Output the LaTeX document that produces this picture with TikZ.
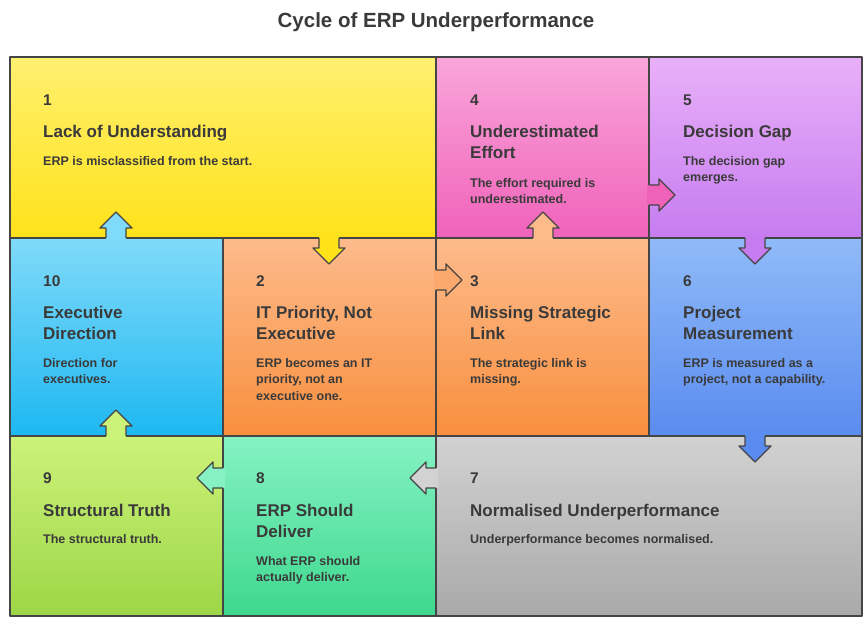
\documentclass[tikz,border=0pt]{standalone}
\usepackage{fontspec}
\setmainfont{Liberation Sans}
\begin{document}
\definecolor{ink}{HTML}{3A3A3A}
\definecolor{edge}{HTML}{454545}
\definecolor{yT}{HTML}{FFF070}\definecolor{yB}{HTML}{FFE21A}
\definecolor{pT}{HTML}{F9A6DA}\definecolor{pB}{HTML}{F062BA}
\definecolor{vT}{HTML}{E9B0F9}\definecolor{vB}{HTML}{C67CF0}
\definecolor{cT}{HTML}{80DAF9}\definecolor{cB}{HTML}{1EB8F2}
\definecolor{oT}{HTML}{FDBB8C}\definecolor{oB}{HTML}{F88F3E}
\definecolor{bT}{HTML}{90BAF8}\definecolor{bB}{HTML}{5A8CF0}
\definecolor{lT}{HTML}{CDF27A}\definecolor{lB}{HTML}{9CD646}
\definecolor{mT}{HTML}{86F2C4}\definecolor{mB}{HTML}{3ED88E}
\definecolor{gT}{HTML}{D2D2D2}\definecolor{gB}{HTML}{A9A9A9}
\newcommand\arr[5]{%
 \def\ax{#1}\def\ay{#2}\def\ux{#3}\def\uy{#4}%
 \fill[#5] \P{-2}{-10} -- \P{10}{-10} -- \P{10}{-16} -- \P{26}{0} -- \P{10}{16} -- \P{10}{10} -- \P{-2}{10} -- cycle;
 \draw[cell] \P{0}{-10} -- \P{10}{-10} -- \P{10}{-16} -- \P{26}{0} -- \P{10}{16} -- \P{10}{10} -- \P{0}{10};}
\def\P#1#2{({\ax+(#1)*(\ux)-(#2)*(\uy)},{\ay+(#1)*(\uy)+(#2)*(\ux)})}
\begin{tikzpicture}[x=1pt,y=-1pt,
 cell/.style={draw=edge,line width=1.4pt,line join=round},
 num/.style={anchor=base west,inner sep=0pt,text=ink,font=\bfseries\fontsize{15.5}{18}\selectfont},
 ttl/.style={anchor=base west,inner sep=0pt,text=ink,font=\bfseries\fontsize{17}{21}\selectfont},
 dsc/.style={anchor=base west,inner sep=0pt,text=ink,font=\bfseries\fontsize{12.5}{16}\selectfont}]
\useasboundingbox (0,0) rectangle (868,620);
\node[text=ink,font=\bfseries\fontsize{20.5}{24}\selectfont] (title) at (436,22) {Cycle of ERP Underperformance};
% cells
\shade[top color=yT,bottom color=yB] (10,57) rectangle (436,238);
\shade[top color=pT,bottom color=pB] (436,57) rectangle (649,238);
\shade[top color=vT,bottom color=vB] (649,57) rectangle (862,238);
\shade[top color=cT,bottom color=cB] (10,238) rectangle (223,436);
\shade[top color=oT,bottom color=oB] (223,238) rectangle (436,436);
\shade[top color=oT,bottom color=oB] (436,238) rectangle (649,436);
\shade[top color=bT,bottom color=bB] (649,238) rectangle (862,436);
\shade[top color=lT,bottom color=lB] (10,436) rectangle (223,616);
\shade[top color=mT,bottom color=mB] (223,436) rectangle (436,616);
\shade[top color=gT,bottom color=gB] (436,436) rectangle (862,616);
\draw[cell] (10,57) rectangle (862,616);
\draw[cell] (10,238) -- (862,238) (10,436) -- (862,436)
 (436,57) -- (436,616) (649,57) -- (649,436) (223,238) -- (223,616);
% arrows
\arr{329}{238}{0}{1}{yB}
\arr{436}{280}{1}{0}{oT!60!oB}
\arr{543}{238}{0}{-1}{oT}
\arr{649}{195}{1}{0}{pB}
\arr{755}{238}{0}{1}{vB}
\arr{755}{436}{0}{1}{bB}
\arr{436}{478}{-1}{0}{gT}
\arr{223}{478}{-1}{0}{mT}
\arr{116}{436}{0}{-1}{lT}
\arr{116}{238}{0}{-1}{cT}
% texts
\node[num] (n1) at (43,105.5) {1};
\node[ttl] (t1) at (43,138) {Lack of Understanding};
\node[dsc] (d1) at (43,165.5) {ERP is misclassified from the start.};
\node[num] (n4) at (470,105.5) {4};
\node[ttl] (t4a) at (470,138) {Underestimated};
\node[ttl] (t4b) at (470,159) {Effort};
\node[dsc] (d4a) at (470,187.5) {The effort required is};
\node[dsc] (d4b) at (470,203.5) {underestimated.};
\node[num] (n5) at (683,105.5) {5};
\node[ttl] (t5) at (683,138) {Decision Gap};
\node[dsc] (d5a) at (683,165.5) {The decision gap};
\node[dsc] (d5b) at (683,181.5) {emerges.};
\node[num] (n10) at (43,286.5) {10};
\node[ttl] (t10a) at (43,319) {Executive};
\node[ttl] (t10b) at (43,340) {Direction};
\node[dsc] (d10a) at (43,367.5) {Direction for};
\node[dsc] (d10b) at (43,384) {executives.};
\node[num] (n2) at (256,286.5) {2};
\node[ttl] (t2a) at (256,319) {IT Priority, Not};
\node[ttl] (t2b) at (256,340) {Executive};
\node[dsc] (d2a) at (256,367.5) {ERP becomes an IT};
\node[dsc] (d2b) at (256,384) {priority, not an};
\node[dsc] (d2c) at (256,400.5) {executive one.};
\node[num] (n3) at (470,286.5) {3};
\node[ttl] (t3a) at (470,319) {Missing Strategic};
\node[ttl] (t3b) at (470,340) {Link};
\node[dsc] (d3a) at (470,367.5) {The strategic link is};
\node[dsc] (d3b) at (470,384) {missing.};
\node[num] (n6) at (683,286.5) {6};
\node[ttl] (t6a) at (683,319) {Project};
\node[ttl] (t6b) at (683,340) {Measurement};
\node[dsc] (d6a) at (683,367.5) {ERP is measured as a};
\node[dsc] (d6b) at (683,384) {project, not a capability.};
\node[num] (n9) at (43,483.5) {9};
\node[ttl] (t9) at (43,516) {Structural Truth};
\node[dsc] (d9) at (43,543.5) {The structural truth.};
\node[num] (n8) at (256,483.5) {8};
\node[ttl] (t8a) at (256,516) {ERP Should};
\node[ttl] (t8b) at (256,537) {Deliver};
\node[dsc] (d8a) at (256,565.5) {What ERP should};
\node[dsc] (d8b) at (256,581.5) {actually deliver.};
\node[num] (n7) at (470,483.5) {7};
\node[ttl] (t7) at (470,516) {Normalised Underperformance};
\node[dsc] (d7) at (470,543.5) {Underperformance becomes normalised.};
\end{tikzpicture}
\end{document}
